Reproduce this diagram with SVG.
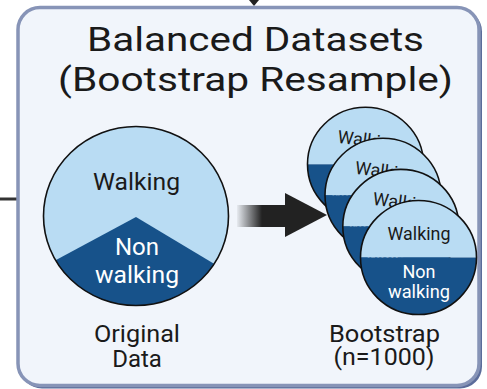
<svg xmlns="http://www.w3.org/2000/svg" width="487" height="389" viewBox="0 0 487 389">
<style>
text{font-family:Roboto,"Liberation Sans",sans-serif;text-anchor:middle}
.dk{fill:#1a1a1a}
.wt{fill:#ffffff}
.lt{fill:#b9dcf3}
.db{fill:#17528a}
.ol{fill:none;stroke:#111;stroke-width:1.6}
</style>
<defs>
<linearGradient id="sg" x1="237" y1="0" x2="262" y2="0" gradientUnits="userSpaceOnUse">
<stop offset="0" stop-color="#222" stop-opacity="0.05"/>
<stop offset="1" stop-color="#222" stop-opacity="1"/>
</linearGradient>
<clipPath id="c0"><ellipse cx="136" cy="216" rx="92.5" ry="89.5"/></clipPath>
<clipPath id="cb"><ellipse cx="0" cy="0" rx="58" ry="57"/></clipPath>
<g id="disc">
<g clip-path="url(#cb)">
<rect x="-60" y="-60" width="120" height="60" class="lt"/>
<rect x="-60" y="0" width="120" height="60" class="db"/>
</g>
<ellipse cx="0" cy="0" rx="58" ry="57" class="ol"/>
</g>
<g id="back">
<use href="#disc"/>
<g transform="rotate(7 0 0)">
<text x="0.5" y="-18" font-size="18" class="dk" textLength="63" lengthAdjust="spacingAndGlyphs">Walking</text>
<text x="0.5" y="20" font-size="18" class="wt">Non</text>
<text x="0.5" y="40.5" font-size="18" class="wt" textLength="62" lengthAdjust="spacingAndGlyphs">walking</text>
</g>
</g>
<g id="front">
<use href="#disc"/>
<text x="0.5" y="-18" font-size="18" class="dk" textLength="63" lengthAdjust="spacingAndGlyphs">Walking</text>
<text x="0.5" y="20" font-size="18" class="wt">Non</text>
<text x="0.5" y="40.5" font-size="18" class="wt" textLength="62" lengthAdjust="spacingAndGlyphs">walking</text>
</g>
</defs>
<g id="connectors">
<path d="M0 199H18" stroke="#333" stroke-width="3"/>
<polygon points="249,0 259,0 254,6" fill="#222"/>
</g>
<g id="panel">
<rect x="20" y="9.5" width="462" height="379" rx="22" fill="#5b6c9a"/>
<rect x="18" y="7.5" width="461" height="378" rx="22" fill="#f1f5fb" stroke="#8794b7" stroke-width="3.5"/>
<text x="255.5" y="51" font-size="34" class="dk" textLength="337" lengthAdjust="spacingAndGlyphs">Balanced Datasets</text>
<text x="255.5" y="90.5" font-size="34" class="dk" textLength="395" lengthAdjust="spacingAndGlyphs">(Bootstrap Resample)</text>
</g>
<g id="original">
<g clip-path="url(#c0)">
<rect x="40" y="120" width="200" height="200" class="lt"/>
<polygon points="136,217 236,277 236,320 30,320 30,274" class="db"/>
</g>
<ellipse cx="136" cy="216" rx="92.5" ry="89.5" class="ol"/>
<text x="136.5" y="190" font-size="24" class="dk" textLength="87" lengthAdjust="spacingAndGlyphs">Walking</text>
<text x="137" y="255" font-size="24" class="wt">Non</text>
<text x="137" y="283" font-size="24" class="wt" textLength="84" lengthAdjust="spacingAndGlyphs">walking</text>
<text x="137" y="342" font-size="24" class="dk" textLength="86" lengthAdjust="spacingAndGlyphs">Original</text>
<text x="137" y="367" font-size="24" class="dk">Data</text>
</g>
<g id="arrow">
<rect x="237" y="205" width="49" height="22" fill="url(#sg)"/>
<polygon points="285,193 327,215 285,237" fill="#222"/>
</g>
<g id="bootstrap">
<use href="#back" x="365.5" y="164.3"/>
<use href="#back" x="383" y="195.3"/>
<use href="#back" x="400.8" y="226.4"/>
<use href="#front" x="418.5" y="257.5"/>
<text x="384.5" y="342" font-size="24" class="dk" textLength="111" lengthAdjust="spacingAndGlyphs">Bootstrap</text>
<text x="384" y="365" font-size="24" class="dk" textLength="101" lengthAdjust="spacingAndGlyphs">(n=1000)</text>
</g>
</svg>
